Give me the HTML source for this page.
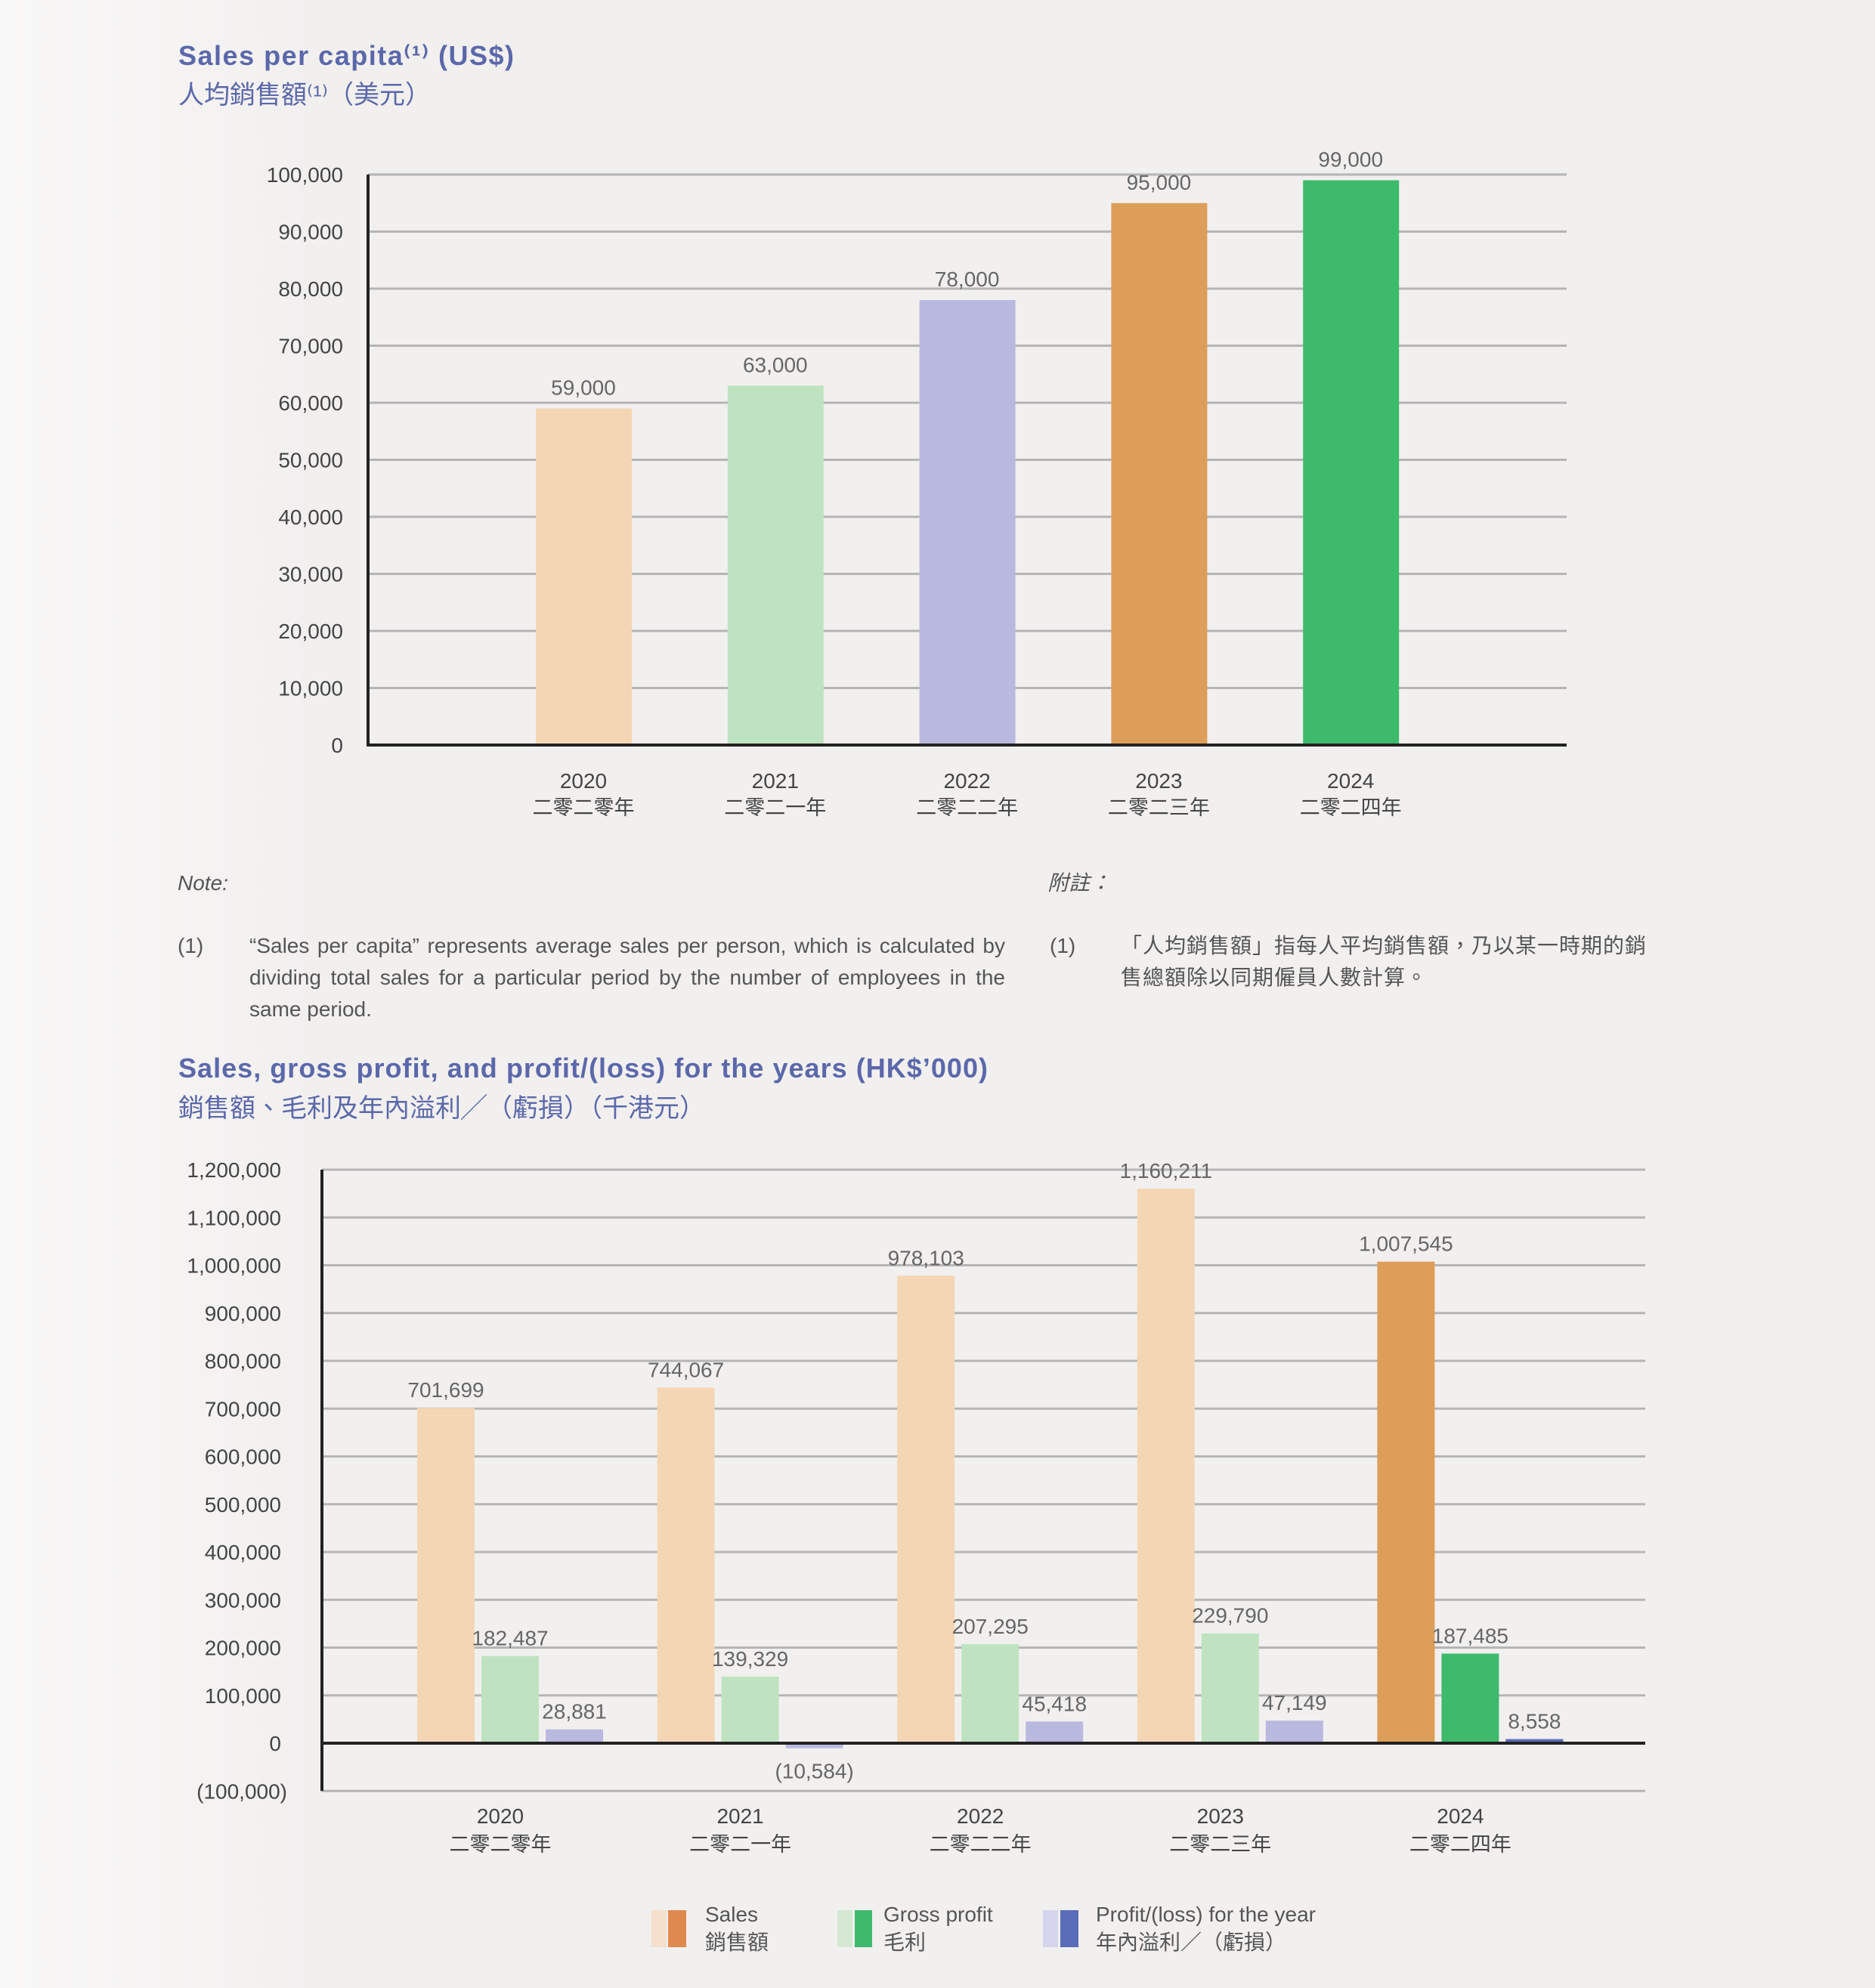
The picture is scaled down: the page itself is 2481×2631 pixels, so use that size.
<!DOCTYPE html>
<html><head><meta charset="utf-8"><style>
html,body{margin:0;padding:0;background:#f2f0ef}
body{width:2481px;height:2631px;position:relative;overflow:hidden;font-family:"Liberation Sans","Noto Sans CJK TC",sans-serif}
svg{position:absolute;left:0;top:0}
.note{position:absolute;font-size:28px;color:#555;line-height:42px}
</style></head><body>
<svg id="chart" width="2481" height="2631" viewBox="0 0 2481 2631" font-family="Liberation Sans, Noto Sans CJK TC, sans-serif">
 <defs><linearGradient id="bgfade" x1="0" x2="1" y1="0" y2="0"><stop offset="0" stop-color="#ffffff" stop-opacity="0.55"/><stop offset="1" stop-color="#ffffff" stop-opacity="0"/></linearGradient></defs>
 <rect x="0" y="0" width="2481" height="2631" fill="#f2f0ef"/>
 <rect x="0" y="0" width="420" height="2631" fill="url(#bgfade)"/>
 <g>
  <text x="236" y="86" font-size="36" font-weight="bold" fill="#5b68aa" textLength="444">Sales per capita⁽¹⁾ (US$)</text>
  <text x="236" y="137" font-size="34" fill="#5b68aa">人均銷售額⁽¹⁾（美元）</text>
 </g>
 <g id="c1"></g>
 <g>
  <text x="236" y="1426" font-size="36" font-weight="bold" fill="#5b68aa" textLength="1071">Sales, gross profit, and profit/(loss) for the years (HK$’000)</text>
  <text x="236" y="1478" font-size="34" fill="#5b68aa">銷售額、毛利及年內溢利╱（虧損）（千港元）</text>
 </g>
 <g id="c2"></g>
 <g>
  <g>
   <rect x="862" y="2528" width="20" height="49" fill="#f5d6b4" opacity="0.6"/><rect x="884" y="2528" width="24" height="49" fill="#e0894f"/>
   <text x="933" y="2543" font-size="28" fill="#555">Sales</text><text x="933" y="2580" font-size="28" fill="#555">銷售額</text>
  </g>
  <g>
   <rect x="1108" y="2528" width="20" height="49" fill="#bfe3c0" opacity="0.6"/><rect x="1131" y="2528" width="23" height="49" fill="#3dba6c"/>
   <text x="1169" y="2543" font-size="28" fill="#555">Gross profit</text><text x="1169" y="2580" font-size="28" fill="#555">毛利</text>
  </g>
  <g>
   <rect x="1380" y="2528" width="20" height="49" fill="#c9c9ec" opacity="0.7"/><rect x="1403" y="2528" width="24" height="49" fill="#5a6bb8"/>
   <text x="1450" y="2543" font-size="28" fill="#555">Profit/(loss) for the year</text><text x="1450" y="2580" font-size="28" fill="#555">年內溢利／（虧損）</text>
  </g>
 </g>
</svg>
<div class="note" style="left:235px;top:1148px;font-style:italic">Note:</div>
<div class="note" style="left:1386px;top:1148px;font-style:italic">附註：</div>
<div class="note" style="left:235px;top:1231px">(1)</div>
<div class="note" style="left:330px;top:1231px;width:1000px;text-align:justify">“Sales per capita” represents average sales per person, which is calculated by dividing total sales for a particular period by the number of employees in the same period.</div>
<div class="note" style="left:1389px;top:1231px">(1)</div>
<div class="note" style="left:1483px;top:1231px;width:720px;letter-spacing:1px">「人均銷售額」指每人平均銷售額，乃以某一時期的銷售總額除以同期僱員人數計算。</div>
<script>
const NS='http://www.w3.org/2000/svg';
// Chart 1 data
const years1=['2020','2021','2022','2023','2024'];
const yearsZh=['二零二零年','二零二一年','二零二二年','二零二三年','二零二四年'];
const perCapita=[59000,63000,78000,95000,99000];
const perCapitaLabels=['59,000','63,000','78,000','95,000','99,000'];
const ticks1=[0,10000,20000,30000,40000,50000,60000,70000,80000,90000,100000];
const tickLabels1=['0','10,000','20,000','30,000','40,000','50,000','60,000','70,000','80,000','90,000','100,000'];
// Chart 2 data
const sales=[701699,744067,978103,1160211,1007545];
const grossProfit=[182487,139329,207295,229790,187485];
const profitLoss=[28881,-10584,45418,47149,8558];
const salesLabels=['701,699','744,067','978,103','1,160,211','1,007,545'];
const gpLabels=['182,487','139,329','207,295','229,790','187,485'];
const plLabels=['28,881','(10,584)','45,418','47,149','8,558'];
const ticks2=[-100000,0,100000,200000,300000,400000,500000,600000,700000,800000,900000,1000000,1100000,1200000];
const tickLabels2=['(100,000)','0','100,000','200,000','300,000','400,000','500,000','600,000','700,000','800,000','900,000','1,000,000','1,100,000','1,200,000'];

function mk(parent,tag,attrs,txt){const e=document.createElementNS(NS,tag);for(const k in attrs)e.setAttribute(k,attrs[k]);if(txt!==undefined)e.textContent=txt;parent.appendChild(e);return e;}

// chart 1
(function(){
 const g=document.getElementById('c1');
 const x0=487,x1=2073,yb=986,yt=231,max=100000;
 const y=v=>yb-(v/max)*(yb-yt);
 const bx=i=>772+i*253.8;
 ticks1.forEach((t,i)=>{
  const l=mk(g,'line',{x1:x0,x2:x1,y1:y(t),y2:y(t),stroke:'#b5b5b5','stroke-width':3});
  
  
  const tx=mk(g,'text',{x:454,y:y(t)+10,'font-size':28,fill:'#444','text-anchor':'end'},tickLabels1[i]);
  
  
 });
 const cols=['#f5d6b4','#bfe3c0','#b9b9e0','#dc9e58','#3dba6c'];
 perCapita.forEach((v,i)=>{
  const r=mk(g,'rect',{x:bx(i)-63,y:y(v),width:127,height:yb-y(v),fill:cols[i]});
  
  
  const t=mk(g,'text',{x:bx(i),y:y(v)-18,'font-size':28,fill:'#666','text-anchor':'middle'},perCapitaLabels[i]);
  
  
  const a=mk(g,'text',{x:bx(i),y:1043,'font-size':28,fill:'#444','text-anchor':'middle'},years1[i]);
  
  
  const b=mk(g,'text',{x:bx(i),y:1078,'font-size':27,fill:'#444','text-anchor':'middle'},yearsZh[i]);
  
  
 });
 const ax=mk(g,'line',{x1:x0,x2:x0,y1:yt,y2:yb+2,stroke:'#222','stroke-width':4});
 
 
 const bl=mk(g,'line',{x1:x0-2,x2:x1,y1:yb,y2:yb,stroke:'#222','stroke-width':4});
 
 
})();

// chart 2
(function(){
 const g=document.getElementById('c2');
 const x0=426,x1=2177,y0=2307,per=63.25;
 const y=v=>y0-(v/100000)*per;
 const gx=i=>552+i*317.6;
 ticks2.forEach((t,i)=>{
  const l=mk(g,'line',{x1:x0,x2:x1,y1:y(t),y2:y(t),stroke:'#b5b5b5','stroke-width':3});
  
  
  const tx=mk(g,'text',{x:t<0?380:372,y:y(t)+10,'font-size':28,fill:'#444','text-anchor':'end'},tickLabels2[i]);
  
  
 });
 const series=[[sales,salesLabels,'#f5d6b4','#dc9e58','sales'],[grossProfit,gpLabels,'#bfe3c0','#3dba6c','gross-profit'],[profitLoss,plLabels,'#b9b9e0','#5a6bb8','profit-loss']];
 years1.forEach((yr,i)=>{
  series.forEach((s,j)=>{
   const v=s[0][i],bx=gx(i)+j*85,w=76;
   const top=Math.min(y(v),y0),h=Math.abs(y(v)-y0);
   const r=mk(g,'rect',{x:bx,y:top,width:w,height:Math.max(h,2),fill:i===4?s[3]:s[2]});
   
   
   const ly=v>=0?y(v)-14:y(v)+40;
   const t=mk(g,'text',{x:bx+w/2+(v<0?0:0),y:ly,'font-size':28,fill:'#666','text-anchor':'middle'},s[1][i]);
   
   
  });
  const cx=gx(i)+110;
  const a=mk(g,'text',{x:cx,y:2413,'font-size':28,fill:'#444','text-anchor':'middle'},yr);
  
  
  const b=mk(g,'text',{x:cx,y:2450,'font-size':27,fill:'#444','text-anchor':'middle'},yearsZh[i]);
  
  
 });
 const ax=mk(g,'line',{x1:x0,x2:x0,y1:y(1200000),y2:y(-100000),stroke:'#222','stroke-width':4});
 
 
 const bl=mk(g,'line',{x1:x0,x2:x1,y1:y0,y2:y0,stroke:'#222','stroke-width':4});
 
 
})();
</script>
</body></html>
